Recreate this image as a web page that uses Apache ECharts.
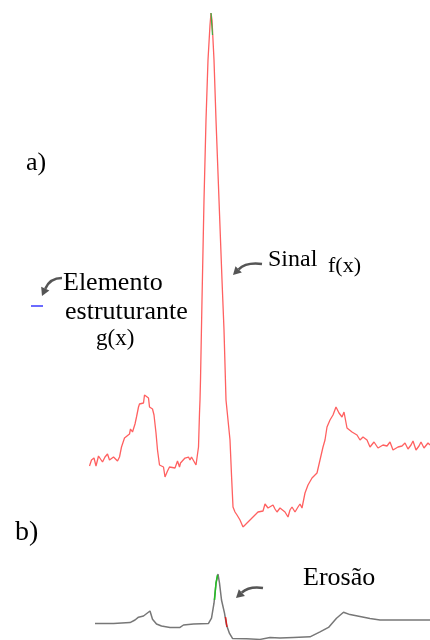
<!DOCTYPE html>
<html>
<head>
<meta charset="utf-8">
<script src="https://cdn.jsdelivr.net/npm/echarts@6/dist/echarts.min.js"></script>
<style>
  html, body { margin: 0; padding: 0; background: #fff; }
  #chart { width: 430px; height: 640px; }
</style>
</head>
<body>
<div id="chart"></div>
<script>
// a) input signal f(x): time (ms) and amplitude (mV)
const signalT = [3, 7, 12, 16, 21, 24, 29, 34, 39, 43, 47, 51, 54, 59, 63, 67, 73, 77, 83, 85, 89, 94, 97, 101, 103, 107, 111, 113, 117, 121, 123, 125, 129, 132, 136, 139, 143, 147, 151, 154, 159, 163, 167, 174, 179, 183, 185, 189, 194, 197, 201, 204, 207, 211, 216, 219, 221, 223, 224, 225, 228, 232, 236, 240, 244, 246, 248, 252, 256, 262, 268, 272, 276, 280, 284, 287, 290, 294, 298, 300, 304, 310, 314, 320, 330, 340, 350, 354, 360, 364, 370, 374, 378, 384, 388, 394, 400, 404, 408, 414, 420, 424, 428, 434, 440, 448, 458, 464, 470, 474, 478, 484, 490, 496, 502, 508, 512, 518, 528, 538, 544, 550, 558, 564, 572, 580, 590, 598, 604, 610, 620, 628, 634, 640, 646, 650, 656, 662, 666, 672, 680, 684];
const signalV = [-0.06, 0.00, 0.02, -0.06, 0.04, 0.06, -0.02, 0.03, 0.06, 0.00, -0.02, 0.03, 0.03, -0.01, 0.03, 0.13, 0.22, 0.23, 0.26, 0.31, 0.28, 0.36, 0.43, 0.53, 0.56, 0.56, 0.57, 0.65, 0.65, 0.62, 0.53, 0.52, 0.51, 0.45, 0.27, 0.10, -0.05, -0.07, -0.07, -0.17, -0.11, -0.07, -0.09, -0.08, -0.01, -0.07, -0.03, -0.03, 0.02, 0.00, 0.03, 0.00, 0.03, 0.01, -0.05, -0.03, 0.13, 0.47, 0.60, 0.80, 1.60, 2.60, 3.40, 4.00, 4.35, 4.47, 4.40, 4.00, 3.40, 2.60, 1.80, 1.30, 0.60, 0.40, 0.20, -0.15, -0.47, -0.52, -0.55, -0.53, -0.60, -0.67, -0.66, -0.62, -0.57, -0.52, -0.51, -0.44, -0.48, -0.47, -0.45, -0.49, -0.52, -0.48, -0.47, -0.52, -0.57, -0.50, -0.47, -0.52, -0.47, -0.44, -0.48, -0.33, -0.25, -0.18, -0.13, 0.00, 0.13, 0.20, 0.33, 0.40, 0.45, 0.53, 0.47, 0.43, 0.48, 0.32, 0.28, 0.25, 0.20, 0.23, 0.20, 0.13, 0.18, 0.12, 0.15, 0.14, 0.18, 0.10, 0.13, 0.14, 0.17, 0.11, 0.15, 0.19, 0.10, 0.14, 0.18, 0.12, 0.17, 0.15];

// flat structuring element g(x)
const elementT = [-114, -90];
const elementV = [1.54, 1.54];

// highlighted point at the tip of the R wave
const tipT = [246, 249];
const tipV = [4.47, 4.25];

// b) eroded signal
const erosionT = [14, 51, 84, 94, 101, 111, 124, 129, 137, 147, 164, 184, 191, 211, 241, 247, 252, 256, 260, 263, 267, 273, 277, 283, 289, 317, 344, 364, 384, 411, 444, 464, 481, 497, 511, 524, 544, 564, 584, 624, 684];
const erosionV = [-0.02, -0.02, 0.02, 0.15, 0.29, 0.35, 0.60, 0.19, -0.05, -0.15, -0.22, -0.22, -0.10, -0.05, -0.02, 0.24, 0.99, 1.99, 2.45, 1.99, 1.15, 0.49, -0.10, -0.52, -0.77, -0.79, -0.82, -0.72, -0.75, -0.72, -0.69, -0.44, -0.22, 0.24, 0.54, 0.42, 0.32, 0.22, 0.15, 0.15, 0.15];

// coloured stretches on the eroded peak
const riseT = [253, 256, 259];
const riseV = [1.15, 1.99, 2.40];
const fallT = [275, 278];
const fallV = [0.30, -0.20];

const zip = (t, v) => t.map((x, i) => [x, v[i]]);

const chart = echarts.init(document.getElementById('chart'), null, { renderer: 'canvas' });

const hiddenX = (gi) => ({ type: 'value', gridIndex: gi, min: -176, max: 684, show: false });
const hiddenY = (gi, mn, mx) => ({ type: 'value', gridIndex: gi, min: mn, max: mx, show: false });

const lineSeries = (gi, data, color, width) => ({
  type: 'line', xAxisIndex: gi, yAxisIndex: gi, data, symbol: 'none',
  smooth: false, silent: true, animation: false,
  lineStyle: { color, width }
});

// curved annotation arrow: tail -> control -> tip
const SERIF = '"Liberation Serif", "Times New Roman", serif';
function arrow(tail, ctrl, tip) {
  const dx = tip[0] - ctrl[0], dy = tip[1] - ctrl[1];
  const len = Math.hypot(dx, dy);
  const ux = dx / len, uy = dy / len;
  const head = 8, half = 4.5;
  const bx = tip[0] - ux * head, by = tip[1] - uy * head;
  return [
    { type: 'bezierCurve', silent: true,
      shape: { x1: tail[0], y1: tail[1], cpx1: ctrl[0], cpy1: ctrl[1], x2: bx, y2: by },
      style: { stroke: '#555', lineWidth: 2.6, fill: null } },
    { type: 'polygon', silent: true,
      shape: { points: [tip, [bx - uy * half, by + ux * half], [bx + uy * half, by - ux * half]] },
      style: { fill: '#555' } }
  ];
}
function label(text, x, baseline, size) {
  return { type: 'text', silent: true, x, y: baseline - 0.33 * size,
    style: { text, font: `${size}px ${SERIF}`, fill: '#000', verticalAlign: 'middle', align: 'left' } };
}

chart.setOption({
  backgroundColor: '#fff',
  animation: false,
  grid: [
    { left: 0, right: 0, top: 13, bottom: 113 },
    { left: 0, right: 0, top: 574, bottom: 0 }
  ],
  xAxis: [hiddenX(0), hiddenX(1)],
  yAxis: [hiddenY(0, -0.67, 4.47), hiddenY(1, -0.85, 2.45)],
  series: [
    lineSeries(0, zip(signalT, signalV), '#ff6060', 1.3),
    lineSeries(0, zip(tipT, tipV), '#3cb043', 1.2),
    lineSeries(0, zip(elementT, elementV), '#3a3aff', 1.6),
    lineSeries(1, zip(erosionT, erosionV), '#777777', 1.5),
    lineSeries(1, zip(riseT, riseV), '#22c022', 1.5),
    lineSeries(1, zip(fallT, fallV), '#d42020', 1.5)
  ],
  graphic: [
    label('a)', 26, 172, 26),
    label('Elemento', 63, 292, 26),
    label('estruturante', 65, 321, 26),
    label('g(x)', 96, 347, 23),
    label('Sinal', 268, 268, 24),
    label('f(x)', 328, 273, 22),
    label('b)', 15, 542, 28),
    label('Erosão', 303, 587, 26),
    ...arrow([62, 278], [50, 278], [42, 296]),
    ...arrow([262, 264], [246, 262], [233, 275]),
    ...arrow([263, 588], [249, 586], [236, 598])
  ]
});
</script>
</body>
</html>
